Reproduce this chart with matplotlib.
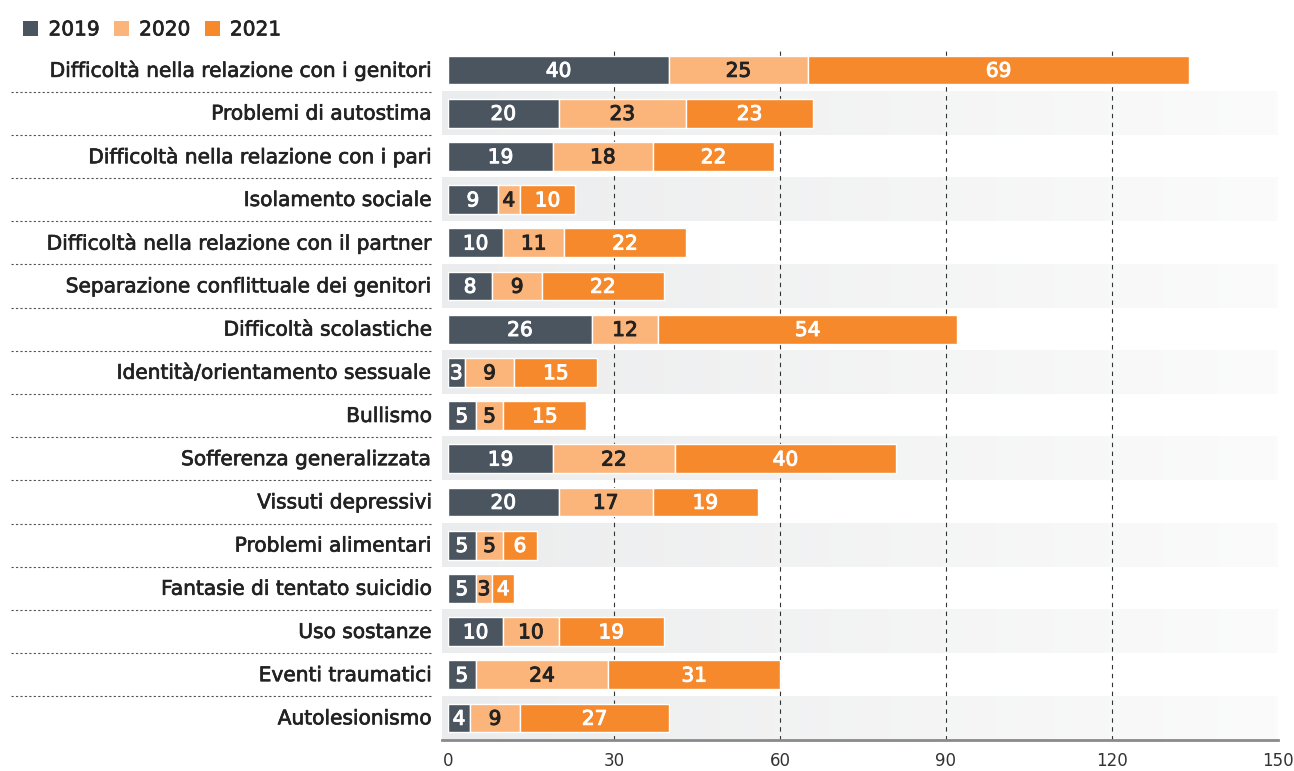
import matplotlib.pyplot as plt
import matplotlib.patheffects as pe
import numpy as np
from matplotlib.patches import Patch
from matplotlib.colors import LinearSegmentedColormap

categories = [
    "Difficoltà nella relazione con i genitori",
    "Problemi di autostima",
    "Difficoltà nella relazione con i pari",
    "Isolamento sociale",
    "Difficoltà nella relazione con il partner",
    "Separazione conflittuale dei genitori",
    "Difficoltà scolastiche",
    "Identità/orientamento sessuale",
    "Bullismo",
    "Sofferenza generalizzata",
    "Vissuti depressivi",
    "Problemi alimentari",
    "Fantasie di tentato suicidio",
    "Uso sostanze",
    "Eventi traumatici",
    "Autolesionismo",
]
years = ["2019", "2020", "2021"]
v2019 = [40, 20, 19, 9, 10, 8, 26, 3, 5, 19, 20, 5, 5, 10, 5, 4]
v2020 = [25, 23, 18, 4, 11, 9, 12, 9, 5, 22, 17, 5, 3, 10, 24, 9]
v2021 = [69, 23, 22, 10, 22, 22, 54, 15, 15, 40, 19, 6, 4, 19, 31, 27]
xticks = [0, 30, 60, 90, 120, 150]

colors = ["#4a5560", "#fbb47a", "#f5892c"]
text_colors = ["white", "#222222", "white"]

plt.rcParams['font.family'] = ['DejaVu Sans']

fig = plt.figure(figsize=(12.94, 7.71), dpi=100)
ax = fig.add_axes([448 / 1294, 1 - 739.6 / 771, (1278 - 448) / 1294, (739.6 - 48.4) / 771])

n = len(categories)
y = np.arange(n)

# alternating gradient bands
grad = np.linspace(0, 1, 256).reshape(1, -1)
band_cmap = LinearSegmentedColormap.from_list("band", ["#ebeced", "#fbfbfb"])
for i in range(1, n, 2):
    ax.imshow(grad, cmap=band_cmap, aspect='auto', extent=(-1.0, 150, i + 0.5, i - 0.5),
              zorder=0, clip_on=False)
ax.set_ylim(n - 0.5, -0.5)
ax.set_xlim(0, 150)

for xv in xticks[1:-1]:
    ax.axvline(xv, color="#333333", lw=0.8, ls=(0, (4, 4)), zorder=1)

left = np.zeros(n)
for vals, c, tc in zip([v2019, v2020, v2021], colors, text_colors):
    vals = np.array(vals)
    ax.barh(y, vals, left=left, height=0.67, color=c, edgecolor="white", linewidth=1, zorder=2)
    for yi, l, v in zip(y, left, vals):
        ax.text(l + v / 2, yi + 0.03, str(v), ha='center', va='center', color=tc,
                fontsize=14.5, zorder=3,
                path_effects=[pe.withStroke(linewidth=0.7, foreground=tc)])
    left = left + vals

ax.set_yticks([])
ax.set_xticks(xticks)
ax.set_xticklabels([str(t) for t in xticks], fontsize=12, color="#333333",
                   fontfamily=['Liberation Sans Narrow', 'DejaVu Sans'])
ax.tick_params(axis='x', length=0, pad=9)
for s in ['top', 'right', 'left']:
    ax.spines[s].set_visible(False)
ax.spines['bottom'].set_color("#8a8a8a")
ax.spines['bottom'].set_linewidth(2)
ax.spines['bottom'].set_bounds(-1.0, 150)

# category labels and dotted separators
for i, cat in enumerate(categories):
    ax.text(-2.9, i + 0.02, cat, ha='right', va='center', fontsize=14.5, color="#222222",
            clip_on=False, path_effects=[pe.withStroke(linewidth=0.5, foreground="#222222")])
for i in range(n - 1):
    ax.plot([-79, -2.9], [i + 0.5, i + 0.5], color="#555555", lw=0.8, ls=(0, (2, 2)),
            clip_on=False)

handles = [Patch(facecolor=c, edgecolor='none') for c in colors]
leg = fig.legend(handles, years, loc='upper left', bbox_to_anchor=(0.004, 0.997), ncol=3,
                 frameon=False, fontsize=14.5, handlelength=0.75, handleheight=0.75,
                 handletextpad=0.5, columnspacing=0.7)
for t in leg.get_texts():
    t.set_color("#222222")
    t.set_path_effects([pe.withStroke(linewidth=0.5, foreground="#222222")])

fig.savefig("out.png", dpi=100)
